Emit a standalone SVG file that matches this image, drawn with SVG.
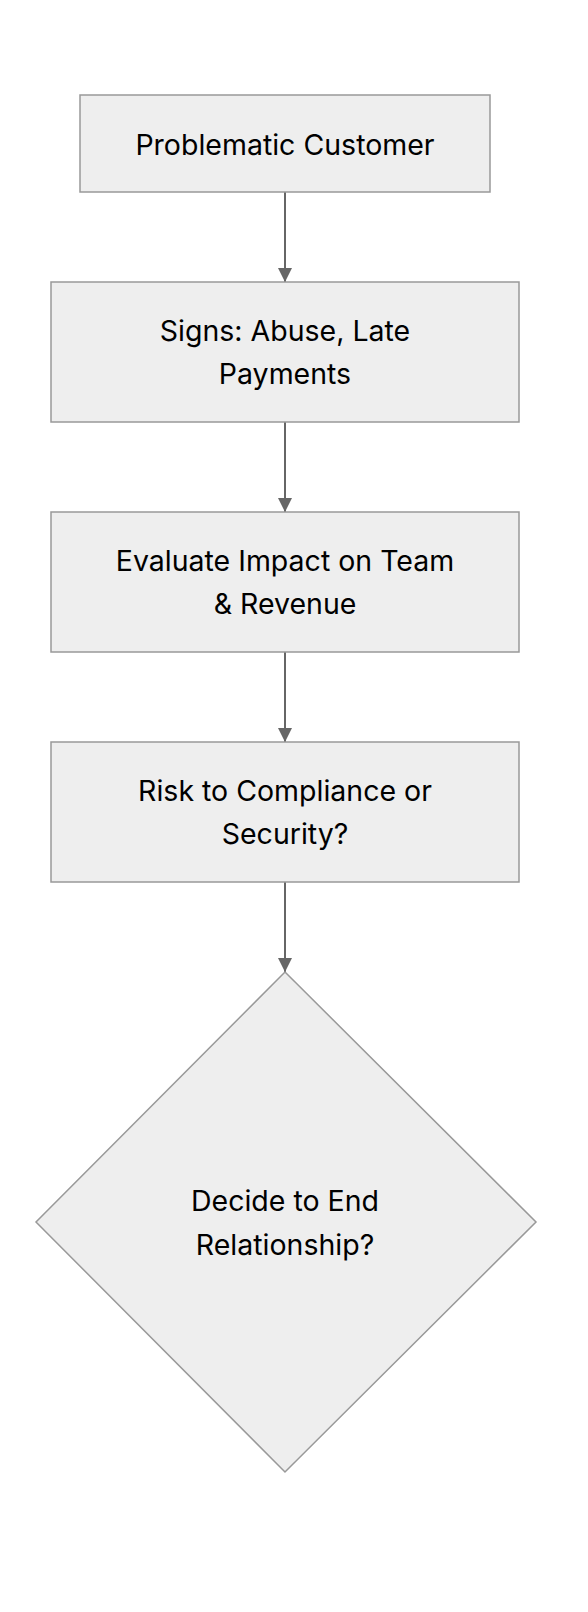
<svg xmlns="http://www.w3.org/2000/svg" width="588" height="1612" viewBox="0 0 588 1612">
<style>
.node{fill:#eeeeee;stroke:#999999;stroke-width:1.5}
.lbl{font-family:Inter,"Noto Sans","Liberation Sans",sans-serif;font-size:28.5px;fill:#000;text-anchor:middle;dominant-baseline:central}
.edge{stroke:#666666;stroke-width:2;fill:none}
</style>
<defs>
<marker id="arrow" viewBox="0 0 10 10" refX="10" refY="5" markerWidth="7" markerHeight="7" markerUnits="strokeWidth" orient="auto">
<path d="M0,0 L10,5 L0,10 z" fill="#666666"/>
</marker>
</defs>
<rect width="588" height="1612" fill="#ffffff"/>
<g id="connectors">
<line class="edge" x1="285" y1="192" x2="285" y2="282" marker-end="url(#arrow)"/>
<line class="edge" x1="285" y1="422" x2="285" y2="512" marker-end="url(#arrow)"/>
<line class="edge" x1="285" y1="652" x2="285" y2="742" marker-end="url(#arrow)"/>
<line class="edge" x1="285" y1="882" x2="285" y2="972" marker-end="url(#arrow)"/>
</g>
<g id="node1">
<rect class="node" x="80" y="95" width="410" height="97"/>
<text class="lbl" x="285" y="144">Problematic Customer</text>
</g>
<g id="node2">
<rect class="node" x="51" y="282" width="468" height="140"/>
<text class="lbl" x="285" y="330">Signs: Abuse, Late</text>
<text class="lbl" x="285" y="373">Payments</text>
</g>
<g id="node3">
<rect class="node" x="51" y="512" width="468" height="140"/>
<text class="lbl" x="285" y="560">Evaluate Impact on Team</text>
<text class="lbl" x="285" y="603">&amp; Revenue</text>
</g>
<g id="node4">
<rect class="node" x="51" y="742" width="468" height="140"/>
<text class="lbl" x="285" y="790">Risk to Compliance or</text>
<text class="lbl" x="285" y="833">Security?</text>
</g>
<g id="node5">
<polygon class="node" points="285,972 536,1222 285,1472 36,1222"/>
<text class="lbl" x="285" y="1200">Decide to End</text>
<text class="lbl" x="285" y="1244">Relationship?</text>
</g>
</svg>
